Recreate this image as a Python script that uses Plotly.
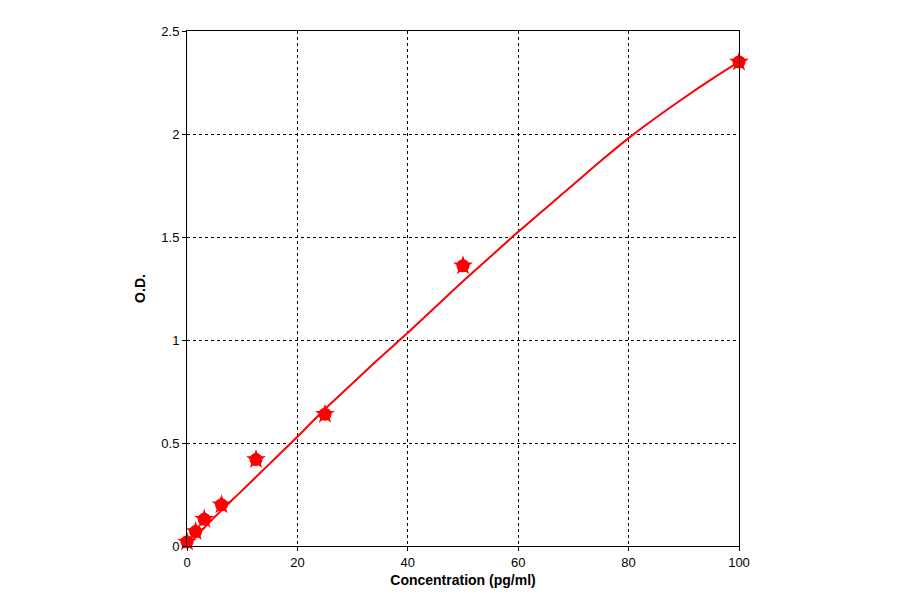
import plotly.graph_objects as go

conc = [0, 1.56, 3.125, 6.25, 12.5, 25, 50, 100]
od = [0.02, 0.07, 0.13, 0.20, 0.42, 0.64, 1.36, 2.35]
curve_x = [0, 5, 10, 15, 20, 25, 30, 35, 40, 45, 50, 55, 60, 65, 70, 75, 80, 85, 90, 95, 100]
curve_y = [0.0, 0.14, 0.27, 0.40, 0.53, 0.665, 0.79, 0.915, 1.035, 1.16, 1.285, 1.405, 1.525, 1.64, 1.755, 1.87, 1.98, 2.08, 2.175, 2.265, 2.35]

fig = go.Figure()
fig.add_trace(go.Scatter(x=curve_x, y=curve_y, mode="lines", line=dict(color="#ff0000", width=2, shape="spline"), showlegend=False))
fig.add_trace(go.Scatter(x=conc, y=od, mode="markers", marker=dict(color="#ff0000", size=15, symbol="star"), showlegend=False, cliponaxis=False))
fig.add_trace(go.Scatter(x=conc, y=od, mode="markers", marker=dict(color="#ff0000", size=13, symbol="circle"), showlegend=False, cliponaxis=False))

ax = dict(showline=True, linecolor="black", linewidth=1, mirror=True, showgrid=True,
          gridcolor="black", griddash="3px,3px", gridwidth=1, zeroline=False, ticks="outside",
          ticklen=4, tickcolor="black", tickfont=dict(size=13, color="black"))
fig.update_xaxes(range=[0, 100], dtick=20, title=dict(text="<b>Concentration (pg/ml)</b>", font=dict(size=14), standoff=6), **ax)
fig.update_yaxes(range=[0, 2.5], dtick=0.5, title=dict(text="<b>O.D.</b>", font=dict(size=14), standoff=12), **ax)
fig.update_layout(width=900, height=594, margin=dict(l=179, r=169, t=23, b=56),
                  plot_bgcolor="white", paper_bgcolor="white",
                  font=dict(family="Liberation Sans, Arial", color="black"))
fig.write_html("out.html")
